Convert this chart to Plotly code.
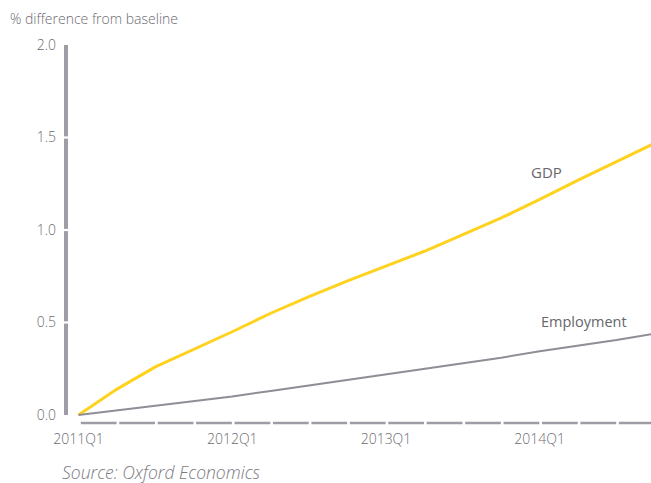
import plotly.graph_objects as go

# ---- data ----
quarters = list(range(16))  # 2011Q1 .. 2014Q4
tick_positions = [0, 4, 8, 12]
tick_labels = ["2011Q1", "2012Q1", "2013Q1", "2014Q1"]
gdp = [0, 0.14, 0.26, 0.355, 0.45, 0.55, 0.64, 0.725, 0.805, 0.885,
       0.975, 1.065, 1.165, 1.27, 1.37, 1.47]
employment = [0, 0.025, 0.05, 0.075, 0.10, 0.13, 0.16, 0.19, 0.222, 0.25,
              0.28, 0.31, 0.345, 0.375, 0.405, 0.44]
y_ticks = [0, 0.5, 1.0, 1.5, 2.0]
y_tick_labels = ["0.0", "0.5", "1.0", "1.5", "2.0"]

# ---- style ----
YELLOW = "#FFD21F"
GRAY_LINE = "#8E8E96"
AXIS_GRAY = "#9D9DA5"
TEXT_GRAY = "#6B6B70"
FONT = "Open Sans"

W, H = 651, 483
ML, MR, MT, MB = 62, 0, 41, 57
PW = W - ML - MR
PH = H - MT - MB

def px_to_paper_x(px):
    return (px - ML) / PW

def px_to_paper_y(py):
    return (H - MB - py) / PH

fig = go.Figure()
fig.add_trace(go.Scatter(x=quarters, y=gdp, mode="lines",
                         line=dict(color=YELLOW, width=3), hoverinfo="skip"))
fig.add_trace(go.Scatter(x=quarters, y=employment, mode="lines",
                         line=dict(color=GRAY_LINE, width=2), hoverinfo="skip"))

shapes = []
# segmented y-axis bar
bar_x = px_to_paper_x(66)
for a, b in zip(y_ticks[:-1], y_ticks[1:]):
    lo = a + (0.006 if a > 0 else 0)
    hi = b - (0.006 if b < 2.0 else 0)
    shapes.append(dict(type="line", xref="paper", yref="y", x0=bar_x, x1=bar_x,
                       y0=lo, y1=hi, line=dict(color=AXIS_GRAY, width=4)))
# dashed x-axis (one dash per quarter)
axis_y = -0.043
for q in quarters[:-1]:
    shapes.append(dict(type="line", xref="x", yref="y", x0=q + 0.06, x1=q + 0.99,
                       y0=axis_y, y1=axis_y, line=dict(color=AXIS_GRAY, width=2.5)))

light = dict(family=FONT, size=14, color=TEXT_GRAY, weight=300)

annotations = [
    dict(text="% difference from baseline", xref="paper", yref="paper",
         x=px_to_paper_x(8), y=px_to_paper_y(18), xanchor="left", yanchor="middle",
         showarrow=False, font=light),
    dict(text="<i>Source: Oxford Economics</i>", xref="paper", yref="paper",
         x=px_to_paper_x(61), y=px_to_paper_y(472), xanchor="left", yanchor="middle",
         showarrow=False, borderpad=0,
         font=dict(family=FONT, size=17.5, color="#7A7A80", weight=300)),
    dict(text="GDP", xref="x", yref="y", x=12.17, y=1.313, showarrow=False,
         font=dict(family=FONT, size=15, color="#66666B", weight=500)),
    dict(text="Employment", xref="x", yref="y", x=13.16, y=0.508, showarrow=False,
         font=dict(family=FONT, size=14.5, color="#66666B", weight=500)),
]

fig.update_layout(
    width=W, height=H,
    margin=dict(l=ML, r=MR, t=MT, b=MB),
    paper_bgcolor="white", plot_bgcolor="white",
    showlegend=False,
    shapes=shapes,
    annotations=annotations,
    xaxis=dict(range=[-0.43, 14.896], tickmode="array", tickvals=tick_positions,
               ticktext=tick_labels, showgrid=False, zeroline=False, showline=False,
               ticks="", tickfont=light, ticklabelstandoff=3),
    yaxis=dict(range=[-0.0595, 2.0216], tickmode="array", tickvals=y_ticks,
               ticktext=y_tick_labels, showgrid=False, zeroline=False, showline=False,
               ticks="", tickfont=light, ticklabelstandoff=5),
)

fig.write_html("out.html")
